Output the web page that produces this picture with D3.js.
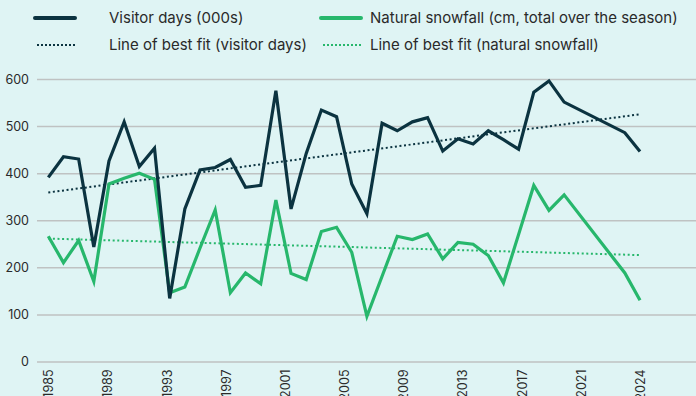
<!DOCTYPE html>
<html>
<head>
<meta charset="utf-8">
<script src="https://cdn.jsdelivr.net/npm/d3@7"></script>
<style>
  html, body { margin: 0; padding: 0; background: #dff4f4; }
  svg { display: block; }
  text { font-family: Inter, Roboto, "Noto Sans", sans-serif; }
</style>
</head>
<body>
<svg id="chart" width="696" height="396"></svg>
<script>
// Seasons with data (2020-2022 not recorded; the lines bridge the gap)
const years = [1985, 1986, 1987, 1988, 1989, 1990, 1991, 1992, 1993, 1994,
               1995, 1996, 1997, 1998, 1999, 2000, 2001, 2002, 2003, 2004,
               2005, 2006, 2007, 2008, 2009, 2010, 2011, 2012, 2013, 2014,
               2015, 2016, 2017, 2018, 2019, 2023, 2024];

// Visitor days (000s)
const visitorDays = [391, 435, 430, 243, 426, 509, 414, 453, 134, 324,
                     407, 412, 429, 370, 374, 575, 324, 442, 534, 520,
                     377, 314, 506, 490, 509, 518, 447, 473, 462, 490,
                     471, 451, 572, 596, 551, 486, 446];

// Natural snowfall (cm, total over the season)
const snowfall = [266, 210, 257, 170, 377, 389, 400, 387, 146, 158,
                  241, 322, 146, 188, 165, 343, 187, 174, 276, 285,
                  232, 96, 181, 266, 259, 271, 218, 253, 249, 225,
                  167, 270, 374, 321, 354, 188, 130];

// Lines of best fit: start and end values over 1985-2024
const fitYears = [1985, 2024];
const visitorFit = [359, 525];
const snowFit = [261, 226];

const xTickLabels = ["1985", "1989", "1993", "1997", "2001", "2005",
                     "2009", "2013", "2017", "2021", "2024"];
const yTicks = [0, 100, 200, 300, 400, 500, 600];

const colors = { visitors: "#0b3340", snow: "#27b76c", grid: "#bfc2c2", text: "#2a2a2a" };

const svg = d3.select("#chart");

const x = d3.scaleLinear().domain([1985, 2024]).range([48.3, 640]);
const y = d3.scaleLinear().domain([0, 600]).range([361.5, 79]);

// Horizontal gridlines with tick labels
const yAxis = d3.axisLeft(y).tickValues(yTicks).tickSize(-(696 - 37)).tickPadding(8);
const gy = svg.append("g").attr("transform", "translate(37,0)").call(yAxis);
gy.select(".domain").remove();
gy.selectAll(".tick line").attr("stroke", colors.grid).attr("stroke-width", 1.5);
gy.selectAll(".tick text").attr("fill", colors.text).attr("font-size", 12.5);

// Year labels spread evenly along the bottom
const xl = d3.scalePoint().domain(xTickLabels).range([x(1985), x(2024)]);
const xAxis = d3.axisBottom(xl).tickSize(0).tickPadding(0);
const gx = svg.append("g").attr("transform", "translate(0,361.5)").call(xAxis);
gx.select(".domain").remove();
gx.selectAll(".tick text")
  .attr("fill", colors.text)
  .attr("font-size", 12.5)
  .attr("text-anchor", "end")
  .attr("transform", "rotate(-90)")
  .attr("x", -8)
  .attr("y", 0)
  .attr("dy", "0.36em");

const line = d3.line().x(d => x(d.year)).y(d => y(d.value));

const toSeries = (xs, vs) => xs.map((yr, i) => ({ year: yr, value: vs[i] }));

// Trend lines (dotted)
svg.append("path").datum(toSeries(fitYears, visitorFit))
  .attr("d", line).attr("fill", "none")
  .attr("stroke", colors.visitors).attr("stroke-width", 2).attr("stroke-dasharray", "2,2.6");
svg.append("path").datum(toSeries(fitYears, snowFit))
  .attr("d", line).attr("fill", "none")
  .attr("stroke", colors.snow).attr("stroke-width", 2).attr("stroke-dasharray", "2,2.6");

// Data lines
svg.append("path").datum(toSeries(years, snowfall))
  .attr("d", line).attr("fill", "none")
  .attr("stroke", colors.snow).attr("stroke-width", 3.2)
  .attr("stroke-linejoin", "miter").attr("stroke-linecap", "butt");
svg.append("path").datum(toSeries(years, visitorDays))
  .attr("d", line).attr("fill", "none")
  .attr("stroke", colors.visitors).attr("stroke-width", 3.2)
  .attr("stroke-linejoin", "miter").attr("stroke-linecap", "butt");

// Legend
const legendItems = [
  { label: "Visitor days (000s)", color: colors.visitors, dotted: false, x: 35, y: 18, textX: 74 },
  { label: "Natural snowfall (cm, total over the season)", color: colors.snow, dotted: false, x: 321, y: 18, textX: 49 },
  { label: "Line of best fit (visitor days)", color: colors.visitors, dotted: true, x: 35, y: 45, textX: 74 },
  { label: "Line of best fit (natural snowfall)", color: colors.snow, dotted: true, x: 321, y: 45, textX: 49 }
];
const lg = svg.append("g").selectAll("g").data(legendItems).join("g")
  .attr("transform", d => `translate(${d.x},${d.y})`);
lg.append("line")
  .attr("x1", d => d.dotted ? 2 : 0).attr("x2", 40)
  .attr("stroke", d => d.color)
  .attr("stroke-width", d => d.dotted ? 2 : 4)
  .attr("stroke-dasharray", d => d.dotted ? "2,2" : null)
  .attr("stroke-linecap", d => d.dotted ? "butt" : "round");
lg.append("text")
  .attr("x", d => d.textX)
  .attr("dy", "0.35em")
  .attr("fill", colors.text)
  .attr("font-size", 15)
  .text(d => d.label);
</script>
</body>
</html>
